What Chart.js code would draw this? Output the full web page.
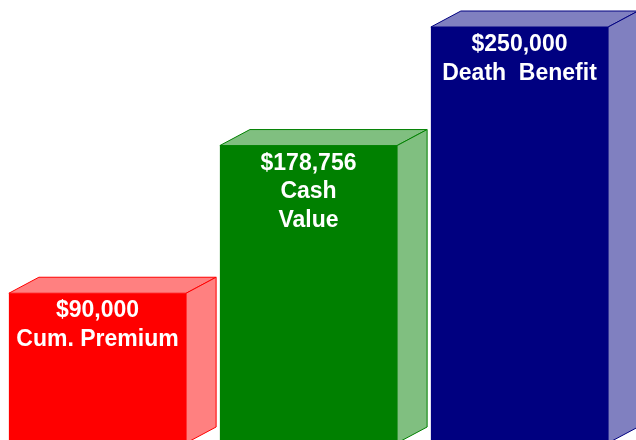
<!DOCTYPE html>
<html>
<head>
<meta charset="utf-8">
<script src="https://cdn.jsdelivr.net/npm/chart.js@4"></script>
<style>
  html, body { margin: 0; padding: 0; background: #fff; overflow: hidden; }
  #wrap { position: absolute; left: -8px; top: 0; width: 660px; height: 446px; }
</style>
</head>
<body>
<div id="wrap"><canvas id="bars" width="660" height="446"></canvas></div>
<script>
// data
var categories = [["Cum. Premium"], ["Cash", "Value"], ["Death  Benefit"]];
var amounts = [90000, 178756, 250000];
var frontColors = ["#ff0000", "#008000", "#000080"];
var faceColors = ["#ff8080", "#80bf80", "#8080c0"];
var edgeColors = ["#ff0000", "#008000", "#000080"];

var depthX = 30, depthY = 16;

// draws the top and side faces so the bars look like boxes
var boxes = {
  id: "boxes",
  afterDatasetsDraw: function(chart) {
    var ctx = chart.ctx;
    chart.getDatasetMeta(0).data.forEach(function(bar, i) {
      var l = bar.x - bar.width / 2, r = bar.x + bar.width / 2;
      var t = bar.y, b = bar.base;
      ctx.save();
      ctx.fillStyle = faceColors[i];
      ctx.strokeStyle = edgeColors[i];
      ctx.lineWidth = 1;
      ctx.beginPath();
      ctx.moveTo(l, t);
      ctx.lineTo(l + depthX, t - depthY);
      ctx.lineTo(r + depthX, t - depthY);
      ctx.lineTo(r, t);
      ctx.closePath();
      ctx.fill(); ctx.stroke();
      ctx.beginPath();
      ctx.moveTo(r, t);
      ctx.lineTo(r + depthX, t - depthY);
      ctx.lineTo(r + depthX, b - depthY);
      ctx.lineTo(r, b);
      ctx.closePath();
      ctx.fill(); ctx.stroke();
      ctx.restore();
    });
  },
  afterDraw: function(chart) {
    var ctx = chart.ctx;
    ctx.save();
    ctx.fillStyle = "#ffffff";
    ctx.font = "bold 23px 'Liberation Sans', Arial, sans-serif";
    ctx.textAlign = "center";
    ctx.textBaseline = "alphabetic";
    chart.getDatasetMeta(0).data.forEach(function(bar, i) {
      var lines = ["$" + amounts[i].toLocaleString("en-US")].concat(categories[i]);
      lines.forEach(function(txt, k) {
        ctx.fillText(txt, bar.x, bar.y + 24 + k * 28.5);
      });
    });
    ctx.restore();
  }
};

new Chart(document.getElementById("bars"), {
  type: "bar",
  data: {
    labels: categories.map(function(c) { return c.join(" "); }),
    datasets: [{
      data: amounts,
      backgroundColor: frontColors,
      borderWidth: 0,
      categoryPercentage: 1,
      barPercentage: 0.84
    }]
  },
  options: {
    responsive: false,
    animation: false,
    layout: { padding: { left: 0, right: 27, top: 27, bottom: 3 } },
    plugins: { legend: { display: false }, tooltip: { enabled: false } },
    scales: {
      x: { display: false },
      y: { display: false, min: 0, max: 250000 }
    }
  },
  plugins: [boxes]
});
</script>
</body>
</html>
